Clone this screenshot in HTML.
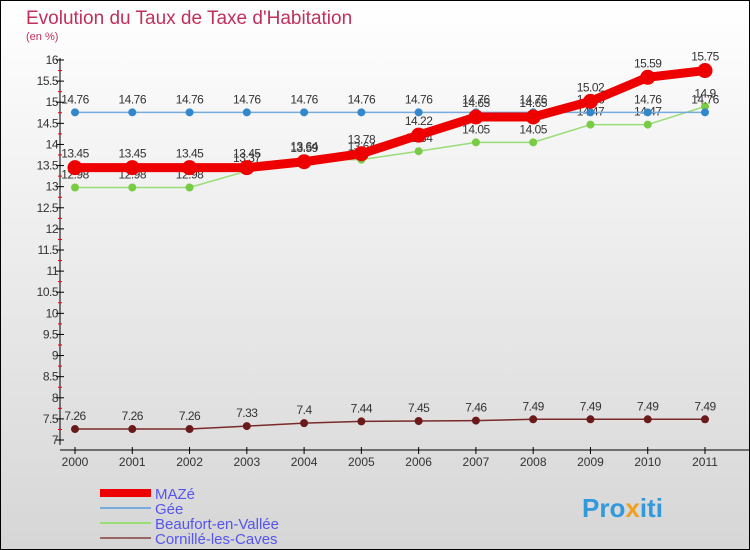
<!DOCTYPE html>
<html><head><meta charset="utf-8"><style>
body{margin:0;width:750px;height:550px;overflow:hidden;font-family:"Liberation Sans",sans-serif}
svg{display:block}
</style></head><body>
<svg id="c" width="750" height="550">
<defs><linearGradient id="bg" x1="0" y1="0" x2="0" y2="1"><stop offset="0" stop-color="#ffffff"/><stop offset="1" stop-color="#d6d6d6"/></linearGradient></defs>
<rect x="0.5" y="0.5" width="749" height="549" fill="url(#bg)" stroke="#000"/>
<text x="26" y="24" font-size="19" fill="#c0305a">Evolution du Taux de Taxe d'Habitation</text>
<text x="26" y="40" font-size="11" fill="#c0305a">(en %)</text>
<g id="axes"></g><g id="series"></g><g id="legend"></g>
<text x="582" y="517" font-size="26" font-weight="bold" fill="#3399dd">Pro<tspan fill="#f0a020">x</tspan>iti</text>
</svg>
<script>
const years=[2000,2001,2002,2003,2004,2005,2006,2007,2008,2009,2010,2011];
const maze=[13.45,13.45,13.45,13.45,13.59,13.78,14.22,14.65,14.65,15.02,15.59,15.75];
const gee=[14.76,14.76,14.76,14.76,14.76,14.76,14.76,14.76,14.76,14.76,14.76,14.76];
const beaufort=[12.98,12.98,12.98,13.37,13.64,13.64,13.84,14.05,14.05,14.47,14.47,14.9];
const cornille=[7.26,7.26,7.26,7.33,7.4,7.44,7.45,7.46,7.49,7.49,7.49,7.49];
const yTicks=[7,7.5,8,8.5,9,9.5,10,10.5,11,11.5,12,12.5,13,13.5,14,14.5,15,15.5,16];
const NS="http://www.w3.org/2000/svg";
const X=i=>75+i*(630/11);
const Y=v=>60+(16-v)*(380/9);
function mk(tag,at,p){const e=document.createElementNS(NS,tag);for(const k in at)e.setAttribute(k,at[k]);p.appendChild(e);return e;}
const ax=document.getElementById('axes');
let e=mk('line',{x1:60,y1:58,x2:60,y2:445,stroke:'#000'},ax);


e=mk('line',{x1:60,y1:450,x2:750,y2:450,stroke:'#000'},ax);


yTicks.forEach((t,i)=>{
  mk('line',{x1:56,x2:64,y1:Y(t),y2:Y(t),stroke:'#000'},ax);
  if(i<yTicks.length-1)mk('line',{x1:58,x2:62,y1:Y(t+0.25),y2:Y(t+0.25),stroke:'#e00'},ax);
  const tx=mk('text',{x:58,y:Y(t)+4,'font-size':12,'text-anchor':'end',fill:'#333','letter-spacing':'-0.5'},ax);
  tx.textContent=String(t);
  
  
});
years.forEach((y,i)=>{
  mk('line',{x1:X(i),x2:X(i),y1:447,y2:454,stroke:'#000'},ax);
  const tx=mk('text',{x:X(i),y:466,'font-size':12,'text-anchor':'middle',fill:'#333'},ax);
  tx.textContent=String(y);
  
  
});
const sg=document.getElementById('series');
function series(vals,name,color,w,r,dot,lab){
  const g=mk('g',{},sg);
  
  
  mk('polyline',{points:vals.map((v,i)=>X(i)+','+Y(v)).join(' '),fill:'none',stroke:color,'stroke-width':w},g);
  vals.forEach((v,i)=>{
    const c=mk('circle',{cx:X(i),cy:Y(v),r:r,fill:dot},g);
    
    
    const t=mk('text',{x:X(i),y:Y(v)-lab,'font-size':12,'text-anchor':'middle',fill:'#333','letter-spacing':'-0.5'},g);
    t.textContent=String(v);
    
    
  });
}
series(cornille,'cornille','#7a2a2a',1.5,4,'#6a1a1a',9);
series(beaufort,'beaufort','#99dd77',1.5,4,'#77cc44',9);
series(gee,'gee','#77aadd',1.5,4,'#3388cc',9);
series(maze,'maze','#ee0000',9,7.5,'#ee0000',10);
const lg=document.getElementById('legend');
[['MAZé','#ee0000',8],['Gée','#77aadd',2],['Beaufort-en-Vallée','#99dd77',2],['Cornillé-les-Caves','#996666',2]].forEach((d,i)=>{
  const y=493+i*15;
  const g=mk('g',{},lg);
  
  
  mk('line',{x1:100,x2:151,y1:y,y2:y,stroke:d[1],'stroke-width':d[2]},g);
  const t=mk('text',{x:155,y:y+6,'font-size':15,fill:'#5555ee'},g);
  t.textContent=d[0];
});
</script>
</body></html>
